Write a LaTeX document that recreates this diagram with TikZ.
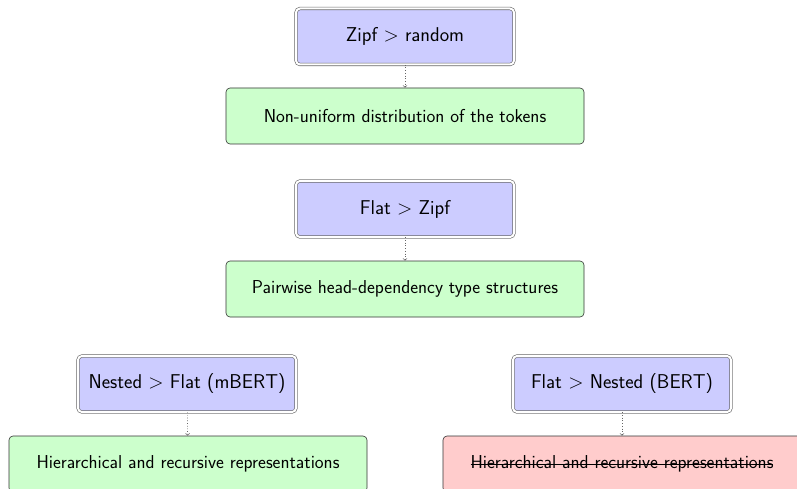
\documentclass[tikz,border=0pt]{standalone}
\renewcommand{\familydefault}{\sfdefault}
% struck-through text: the text with a rule across its x-height
\newcommand{\strikeout}[1]{\setbox0\hbox{#1}\rlap{\raisebox{0.45ex}{\rule{\wd0}{0.8pt}}}\box0}
\begin{document}
\begin{tikzpicture}[x=1pt,y=-1pt,
  claim/.style={draw=black!60, double=white, double distance=2pt, line width=0.6pt,
    rounded corners=4pt, fill=blue!20, minimum width=218pt, minimum height=56pt,
    inner xsep=6pt, font=\fontsize{20}{24}\selectfont},
  finding/.style={draw=black!80, line width=0.6pt, rounded corners=4pt, fill=green!20,
    minimum width=358pt, minimum height=56pt, inner xsep=6pt,
    font=\fontsize{18.7}{22}\selectfont},
  rejected/.style={finding, fill=red!20},
  link/.style={draw=black!60, dotted, line width=0.7pt, ->, >=to}]
\useasboundingbox (0,0) rectangle (797,489);
\clip (0,0) rectangle (797,489);

% first comparison
\node[claim]   (c1) at (405,36.5) {Zipf > random};
\node[finding] (f1) at (405,116)  {Non-uniform distribution of the tokens};
\draw[link] (c1) -- (f1);

% second comparison
\node[claim]   (c2) at (405,209) {Flat > Zipf};
\node[finding] (f2) at (405,289) {Pairwise head-dependency type structures};
\draw[link] (c2) -- (f2);

% third comparison, split by model
\node[claim]   (c3) at (187,384) {Nested > Flat (mBERT)};
\node[finding] (f3) at (188,464) {Hierarchical and recursive representations};
\draw[link] (c3) -- (f3);

\node[claim]    (c4) at (622,384) {Flat > Nested (BERT)};
\node[rejected] (f4) at (622,464) {\strikeout{Hierarchical and recursive representations}};
\draw[link] (c4) -- (f4);
\end{tikzpicture}
\end{document}
